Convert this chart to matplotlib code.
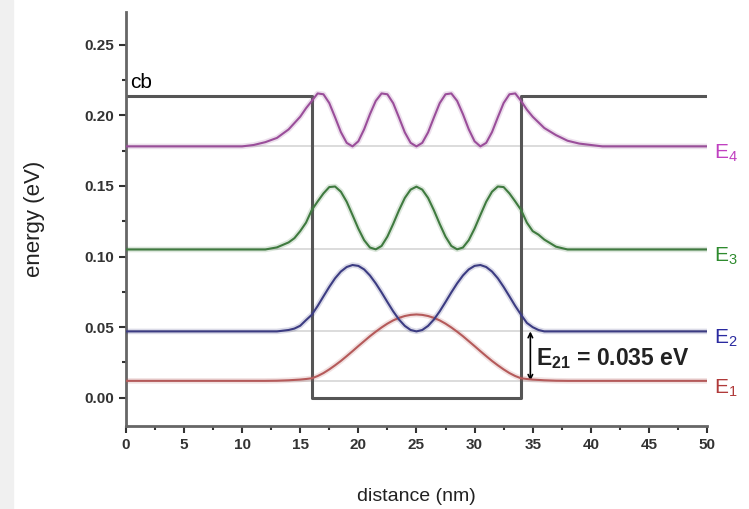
import matplotlib
matplotlib.use("Agg")
import matplotlib.pyplot as plt
from matplotlib.patches import Rectangle

plt.rcParams["font.family"] = ["Liberation Sans", "DejaVu Sans"]
plt.rcParams["mathtext.default"] = "regular"

# quantum well profile (conduction band edge)
well_x = [0, 16, 16, 34, 34, 50]
well_y = [0.2135, 0.2135, 0.0, 0.0, 0.2135, 0.2135]

# energy levels (eV)
levels = [0.012, 0.047, 0.105, 0.178]
level_names = ["E$_1$", "E$_2$", "E$_3$", "E$_4$"]

# x positions inside the well, 0.5 nm steps
x_in = [16.0, 16.5, 17.0, 17.5, 18.0, 18.5, 19.0, 19.5, 20.0, 20.5, 21.0, 21.5,
        22.0, 22.5, 23.0, 23.5, 24.0, 24.5, 25.0, 25.5, 26.0, 26.5, 27.0, 27.5,
        28.0, 28.5, 29.0, 29.5, 30.0, 30.5, 31.0, 31.5, 32.0, 32.5, 33.0, 33.5, 34.0]

e1_x = [0, 12, 13, 14, 15, 15.5] + x_in + [34.5, 35, 36, 37, 38, 50]
e1_y = [0.012, 0.012, 0.0121, 0.0124, 0.0129, 0.0133,
        0.0138, 0.0154, 0.0175, 0.0201, 0.0230, 0.0261, 0.0295, 0.0330, 0.0366, 0.0401,
        0.0436, 0.0468, 0.0498, 0.0525, 0.0548, 0.0566, 0.0579, 0.0587, 0.0590, 0.0587,
        0.0579, 0.0566, 0.0548, 0.0525, 0.0498, 0.0468, 0.0436, 0.0401, 0.0366, 0.0330,
        0.0295, 0.0261, 0.0230, 0.0201, 0.0175, 0.0154, 0.0138,
        0.0133, 0.0129, 0.0124, 0.0121, 0.012, 0.012]

e2_x = [0, 13, 14, 14.5, 15, 15.5] + x_in + [34.5, 35, 35.5, 36, 37, 50]
e2_y = [0.047, 0.047, 0.048, 0.049, 0.051, 0.055,
        0.0588, 0.0650, 0.0718, 0.0785, 0.0846, 0.0894, 0.0926, 0.0940, 0.0934, 0.0909,
        0.0866, 0.0810, 0.0746, 0.0678, 0.0612, 0.0554, 0.0509, 0.0480, 0.0470, 0.0480,
        0.0509, 0.0554, 0.0612, 0.0678, 0.0746, 0.0810, 0.0866, 0.0909, 0.0934, 0.0940,
        0.0926, 0.0894, 0.0846, 0.0785, 0.0718, 0.0650, 0.0588,
        0.053, 0.050, 0.048, 0.047, 0.047, 0.047]

e3_x = [0, 12, 13, 14, 14.5, 15, 15.5] + x_in + [34.5, 35, 35.5, 36, 37, 38, 50]
e3_y = [0.105, 0.105, 0.1065, 0.110, 0.113, 0.118, 0.124,
        0.133, 0.139, 0.1447, 0.1492, 0.1496, 0.1459, 0.1388, 0.1294, 0.1198, 0.1116,
        0.1064, 0.1051, 0.1075, 0.1141, 0.1231, 0.1328, 0.1415, 0.1474, 0.1495, 0.1474,
        0.1415, 0.1328, 0.1231, 0.1141, 0.1075, 0.1051, 0.1064, 0.1116, 0.1198, 0.1294,
        0.1388, 0.1459, 0.1496, 0.1492, 0.1447, 0.139, 0.133,
        0.124, 0.118, 0.1155, 0.112, 0.107, 0.105, 0.105]

e4_x = [0, 10, 11, 12, 13, 14, 15, 15.5] + x_in + [34.5, 35, 35.5, 36, 37, 38, 39, 40, 41, 50]
e4_y = [0.178, 0.178, 0.179, 0.181, 0.184, 0.190, 0.199, 0.205,
        0.2102, 0.2155, 0.2149, 0.2087, 0.1986, 0.1881, 0.1805, 0.1780, 0.1816, 0.1901,
        0.2008, 0.2102, 0.2155, 0.2149, 0.2086, 0.1984, 0.1879, 0.1805, 0.1780, 0.1805,
        0.1879, 0.1984, 0.2086, 0.2149, 0.2155, 0.2102, 0.2008, 0.1901, 0.1816, 0.1780,
        0.1805, 0.1881, 0.1986, 0.2087, 0.2149, 0.2155, 0.2102,
        0.204, 0.199, 0.195, 0.191, 0.186, 0.182, 0.180, 0.179, 0.178, 0.178]

curve_x = [e1_x, e2_x, e3_x, e4_x]
curve_y = [e1_y, e2_y, e3_y, e4_y]
line_colors = ["#b55a5a", "#3c3c82", "#3f7a3f", "#9a4e9a"]
label_colors = ["#b03a3a", "#2a2aa0", "#2e8b2e", "#c040c0"]

fig = plt.figure(figsize=(7.49, 5.09), dpi=100)
fig.patches.append(Rectangle((0, 0), 0.017, 1, transform=fig.transFigure,
                             color="#f0f0f0", zorder=-1))
ax = fig.add_axes([0.168, 0.163, 0.776, 0.813])

# faint level lines
for lv in levels:
    ax.axhline(lv, color="#d9d9d9", lw=1.3, zorder=1)

ax.plot(well_x, well_y, color="#555555", lw=2.2, zorder=2)

for xs, ys, c in zip(curve_x, curve_y, line_colors):
    ax.plot(xs, ys, color=c, lw=4, alpha=0.18, zorder=3)
    ax.plot(xs, ys, color=c, lw=1.5, zorder=4)

for lv, name, c in zip(levels, level_names, label_colors):
    ax.text(50.6, lv - 0.005, name, color=c, fontsize=15, va="center",
            ha="left", clip_on=False)

ax.text(0.4, 0.223, "cb", fontsize=15, va="center", ha="left")

ax.annotate("", xy=(34.8, levels[1]), xytext=(34.8, levels[0]),
            arrowprops=dict(arrowstyle="<->", color="black", lw=1.2,
                            shrinkA=0, shrinkB=0, mutation_scale=8))
ax.text(35.3, 0.0275, "E$_{21}$ = 0.035 eV", fontsize=16.5, fontweight="bold",
        va="center", ha="left", color="#222222")

ax.set_xlim(0, 50)
ax.set_ylim(-0.02, 0.273)
ax.set_xticks(range(0, 51, 5))
ax.set_xticks([i + 2.5 for i in range(0, 50, 5)], minor=True)
ax.set_yticks([0.0, 0.05, 0.10, 0.15, 0.20, 0.25])
ax.set_yticklabels(["0.00", "0.05", "0.10", "0.15", "0.20", "0.25"])
ax.set_yticks([0.025, 0.075, 0.125, 0.175, 0.225], minor=True)

for side in ["top", "right"]:
    ax.spines[side].set_visible(False)
for side in ["left", "bottom"]:
    ax.spines[side].set_color("#666666")
    ax.spines[side].set_linewidth(2)

ax.tick_params(which="major", direction="out", length=5, width=1.5, labelsize=11,
               color="#333333", labelcolor="#333333")
ax.tick_params(which="minor", direction="out", length=3, width=1.5, color="#333333")
for lab in ax.get_xticklabels() + ax.get_yticklabels():
    lab.set_fontweight("bold")

ax.set_xlabel("distance (nm)", fontsize=14, labelpad=26, color="#222222")
ax.set_ylabel("energy (eV)", fontsize=16, labelpad=28, color="#222222")

fig.savefig("out.png", dpi=100)
